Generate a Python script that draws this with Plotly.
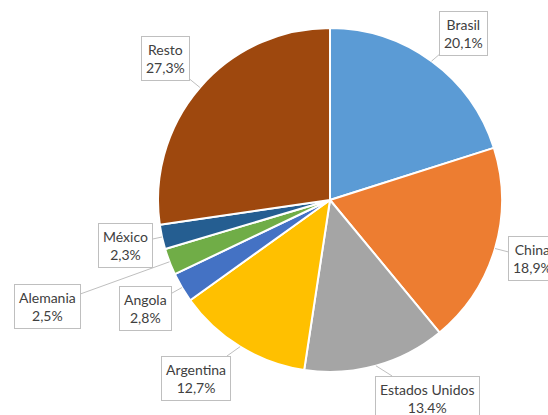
import math
import plotly.graph_objects as go

# ---- data ----
categories = ["Brasil", "China", "Estados Unidos", "Argentina", "Angola", "Alemania", "México", "Resto"]
shares = [20.1, 18.9, 13.4, 12.7, 2.8, 2.5, 2.3, 27.3]
label_texts = ["20,1%", "18,9%", "13.4%", "12,7%", "2,8%", "2,5%", "2,3%", "27,3%"]

# ---- styles / layout ----
colors = ["#5B9BD5", "#ED7D31", "#A5A5A5", "#FFC000", "#4472C4", "#70AD47", "#255E91", "#9E480E"]
W, H = 548, 415
CX, CY, R = 330, 200, 172  # pie centre / radius in pixels
# label box centres in pixels
box_centres = [(463, 34), (532, 258), (427, 398), (196, 378), (145, 308), (47, 306), (125, 245), (165, 59)]

fig = go.Figure(go.Pie(
    labels=categories, values=shares, sort=False, direction="clockwise", rotation=0,
    marker=dict(colors=colors, line=dict(color="white", width=2)),
    textinfo="none", hoverinfo="label+percent", showlegend=False,
    domain=dict(x=[(CX - R) / W, (CX + R) / W], y=[1 - (CY + R) / H, 1 - (CY - R) / H]),
))

total = sum(shares)
cum = 0.0
annotations = []
for cat, v, txt, (bx, by) in zip(categories, shares, label_texts, box_centres):
    mid = (cum + v / 2) / total * 2 * math.pi
    cum += v
    tx = CX + R * math.sin(mid)
    ty = CY - R * math.cos(mid)
    annotations.append(dict(
        x=tx / W, y=1 - ty / H, xref="paper", yref="paper",
        ax=bx - tx, ay=by - ty, axref="pixel", ayref="pixel",
        text=f"{cat}<br>{txt}", showarrow=True, arrowhead=0, arrowwidth=1,
        arrowcolor="#BFBFBF", standoff=0,
        bordercolor="#BFBFBF", borderwidth=1, borderpad=4, bgcolor="white",
        font=dict(family="Lato, Open Sans, sans-serif", size=14, color="#404040"),
        align="center",
    ))

fig.update_layout(
    width=W, height=H, margin=dict(l=0, r=0, t=0, b=0),
    paper_bgcolor="white", plot_bgcolor="white",
    annotations=annotations,
)
fig.write_html("out.html", config={"displayModeBar": False},
               post_script="document.body.style.margin='0';")
